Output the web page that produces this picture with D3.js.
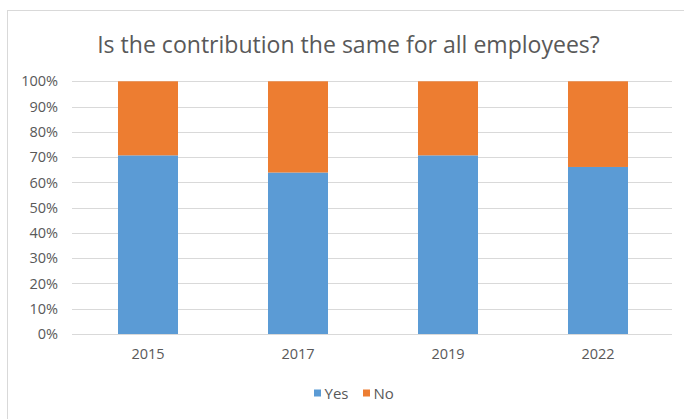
<!DOCTYPE html>
<html>
<head>
<meta charset="utf-8">
<script src="https://cdn.jsdelivr.net/npm/d3@7"></script>
<style>
  html, body { margin: 0; padding: 0; background: #fff; }
  svg { display: block; font-family: "Open Sans", sans-serif; }
</style>
</head>
<body>
<svg id="chart" width="684" height="419"></svg>
<script>
// Survey results: share of answers per survey year (percent)
const years = ["2015", "2017", "2019", "2022"];
const yesShare = [70.7, 63.9, 70.7, 66.1];
const noShare = [29.3, 36.1, 29.3, 33.9];
const seriesNames = ["Yes", "No"];
const seriesColors = ["#5b9bd5", "#ed7d31"];
const yTicks = [0, 10, 20, 30, 40, 50, 60, 70, 80, 90, 100];
const titleText = "Is the contribution the same for all employees?";

const svg = d3.select("#chart");
const textColor = "#595959";
const gridColor = "#d9d9d9";

// chart frame
svg.append("rect")
  .attr("x", 7.5).attr("y", 10.5)
  .attr("width", 700).attr("height", 430)
  .attr("fill", "#fff")
  .attr("stroke", gridColor).attr("stroke-width", 1);

const plot = { left: 72, right: 672, top: 81.3, bottom: 334 };

const x = d3.scaleBand()
  .domain(years)
  .range([plot.left + 1, plot.right + 1])
  .paddingInner(0.6)
  .paddingOuter(0.3);

const y = d3.scaleLinear()
  .domain([0, 100])
  .range([plot.bottom, plot.top]);

// gridlines
svg.append("g")
  .selectAll("line")
  .data(yTicks)
  .join("line")
  .attr("x1", plot.left).attr("x2", plot.right)
  .attr("y1", d => Math.round(y(d)) + 0.5)
  .attr("y2", d => Math.round(y(d)) + 0.5)
  .attr("stroke", gridColor).attr("stroke-width", 1);

// stacked bars
const rows = years.map((yr, i) => ({ year: yr, Yes: yesShare[i], No: noShare[i] }));
const stacked = d3.stack().keys(seriesNames)(rows);

svg.append("g")
  .selectAll("g")
  .data(stacked)
  .join("g")
  .attr("fill", (d, i) => seriesColors[i])
  .selectAll("rect")
  .data(d => d)
  .join("rect")
  .attr("x", d => x(d.data.year))
  .attr("width", x.bandwidth())
  .attr("y", d => y(d[1]))
  .attr("height", d => y(d[0]) - y(d[1]));

// y axis labels
const yAxis = d3.axisLeft(y)
  .tickValues(yTicks)
  .tickFormat(d => d + "%")
  .tickSize(0)
  .tickPadding(14);

svg.append("g")
  .attr("transform", `translate(${plot.left},0)`)
  .call(yAxis)
  .call(g => g.select(".domain").remove())
  .call(g => g.selectAll("text")
    .attr("fill", textColor)
    .style("font-family", "'Open Sans', sans-serif")
    .style("font-size", "14.5px"));

// x axis labels
const xAxis = d3.axisBottom(x).tickSize(0).tickPadding(15);
svg.append("g")
  .attr("transform", `translate(0,${plot.bottom})`)
  .call(xAxis)
  .call(g => g.select(".domain").remove())
  .call(g => g.selectAll("text")
    .attr("fill", textColor)
    .style("font-family", "'Open Sans', sans-serif")
    .style("font-size", "14.5px"));

// title, sized to span the header area
const title = svg.append("text")
  .attr("x", 348.5).attr("y", 53)
  .attr("text-anchor", "middle")
  .attr("fill", textColor)
  .style("font-size", "22px")
  .text(titleText);
const w = title.node().getComputedTextLength();
title.style("font-size", (22 * 503 / w).toFixed(2) + "px");

// legend
const legendItems = [
  { name: seriesNames[0], color: seriesColors[0], x: 314 },
  { name: seriesNames[1], color: seriesColors[1], x: 363 }
];
const legend = svg.append("g");
legendItems.forEach(it => {
  legend.append("rect")
    .attr("x", it.x).attr("y", 389.5)
    .attr("width", 7).attr("height", 7)
    .attr("fill", it.color);
  legend.append("text")
    .attr("x", it.x + 10.5).attr("y", 398.5)
    .attr("fill", textColor)
    .style("font-size", "15px")
    .text(it.name);
});
</script>
</body>
</html>
